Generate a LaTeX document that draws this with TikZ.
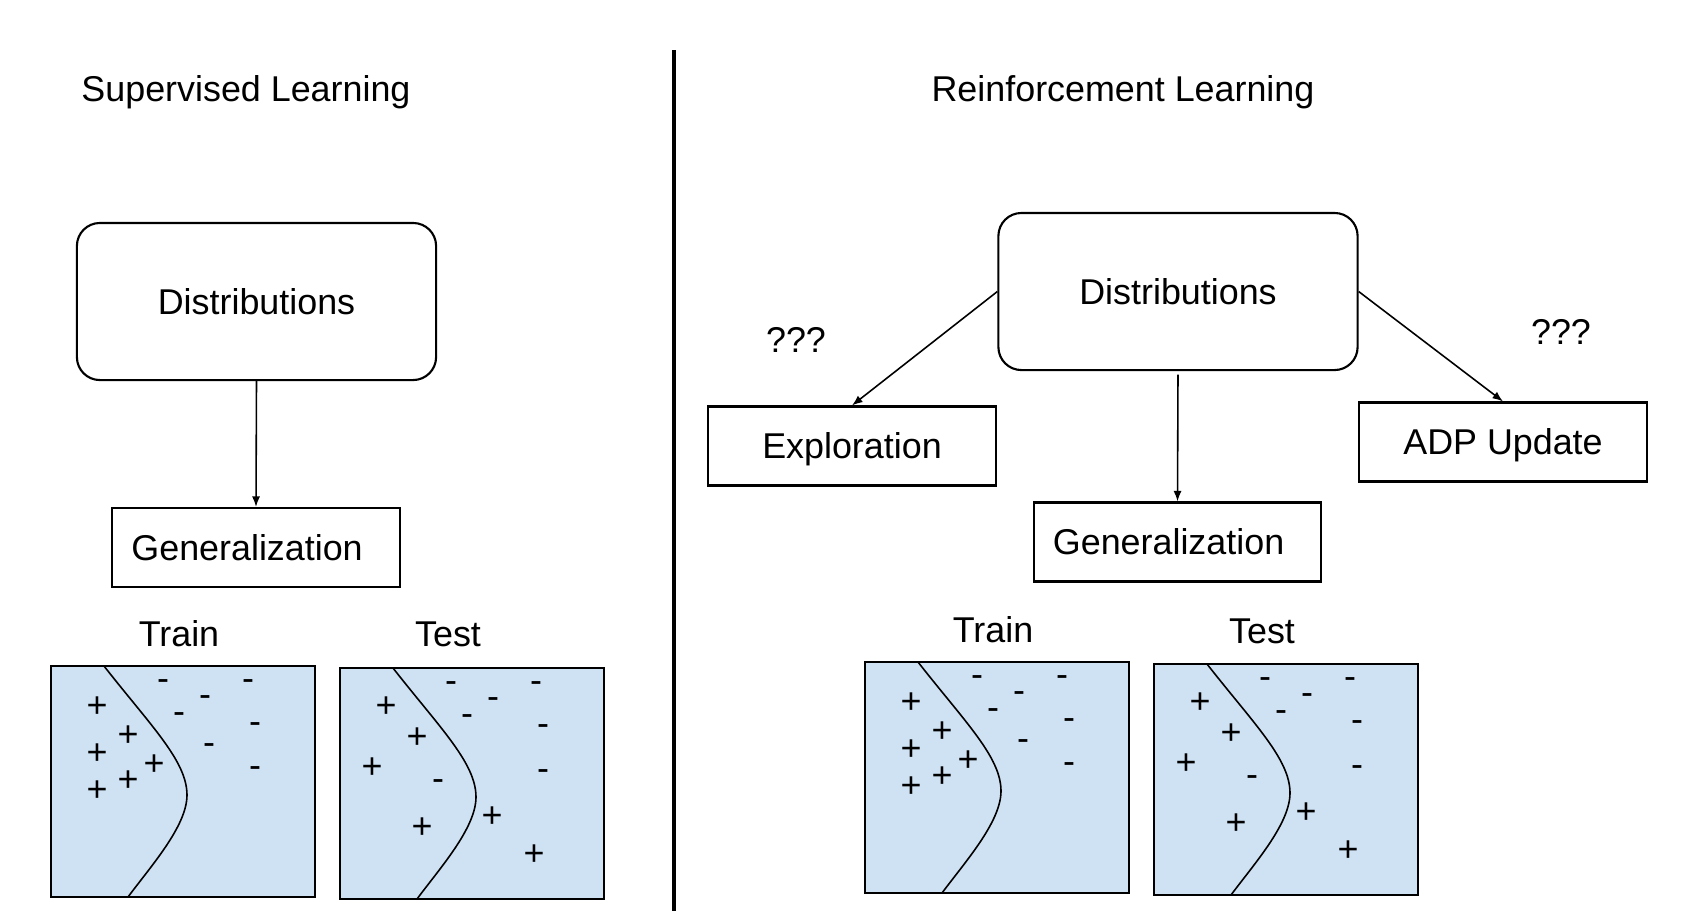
\documentclass[tikz,border=0pt]{standalone}
\usepackage{fontspec}
\setmainfont{Liberation Sans}
\usepackage{tikz}
\usetikzlibrary{positioning, arrows.meta}
\usepackage{xcolor}
\definecolor{panelfill}{HTML}{CFE2F3}
\tikzset{
  % rounded box = distributions
  distbox/.style={draw, rounded corners=0.23cm, line width=0.6pt,
                  minimum width=3.59cm, minimum height=1.57cm},
  % plain box = outcome of the distributions
  outbox/.style={draw, line width=0.6pt, inner sep=0pt,
                 text height=0.72em, text depth=0pt,
                 minimum width=2.87cm, minimum height=0.79cm},
  % same box, text pushed to the left
  outbox left/.style={outbox, text width=2.49cm, align=left, inner xsep=0.19cm},
  flow/.style={-{Latex[length=3pt,width=2.3pt]}, line width=0.45pt},
  % data marks
  plussign/.style={inner sep=0pt},
  minussign/.style={inner sep=0pt, yshift=-1.1pt},
}
\newcommand{\panelcanvas}{%
  \draw[fill=panelfill, line width=0.6pt] (0,0) rectangle (264,231);
  \draw[line width=0.45pt] (53,0) .. controls (100,60) and (136,95) .. (136,129)
    .. controls (136,160) and (100,200) .. (77,231);
}
\newcommand{\trainsamples}[1]{%
  \foreach \x/\y [count=\i] in {46/41,77/70,46/88,103/99,77/115,46/125}
    \node[plussign] (#1p\i) at (\x,\y) {+};%
  \foreach \x/\y [count=\i] in {112/15,197/15,154/31,128/48,204/58,158/79,204/102}
    \node[minussign] (#1m\i) at (\x,\y) {-};%
}
\newcommand{\testsamples}[1]{%
  \foreach \x/\y [count=\i] in {46/39,77/70,32/100,152/149,82/160,194/187}
    \node[plussign] (#1p\i) at (\x,\y) {+};%
  \foreach \x/\y [count=\i] in {111/15,196/15,153/31,127/48,203/58,98/113,203/103}
    \node[minussign] (#1m\i) at (\x,\y) {-};%
}
\begin{document}
\begin{tikzpicture}[x=0.01cm, y=-0.01cm, font=\fontsize{10.2}{12.2}\selectfont]
  \useasboundingbox (0,0) rectangle (1700,920);
  % divider between the two halves
  \draw[line width=0.9pt] (674,50) -- (674,911);
  % titles
  \node (sltitle) at (246,92) {Supervised Learning};
  \node (rltitle) at (1123,92) {Reinforcement Learning};

  % supervised side
  \node[distbox] (ldist) at (256.5,301.5) {Distributions};
  \node[outbox left] (lgen) at (256,547.5) {Generalization};
  \draw[flow] (ldist.south) -- (lgen.north);

  % reinforcement side
  \node[distbox] (rdist) at (1178,291.5) {Distributions};
  \node[outbox] (expl) at (852,446) {Exploration};
  \node[outbox] (adp) at (1503,442) {ADP Update};
  \node[outbox left] (rgen) at (1177.5,542) {Generalization};
  \draw[flow] (rdist.west) -- (expl.north);
  \draw[flow] (rdist.east) -- (adp.north);
  \draw[flow, shorten <=1pt] (rdist.south) -- (rgen.north);
  \node (qleft) at (796,340) {???};
  \node (qright) at (1561,332) {???};

  % train / test panels, supervised
  \node (ltrain) at (179,634) {Train};
  \node (ltest) at (448,634) {Test};
  \begin{scope}[shift={(51,666)}]
    \panelcanvas
    \trainsamples{lt}
  \end{scope}
  \begin{scope}[shift={(340,668)}]
    \panelcanvas
    \testsamples{ls}
  \end{scope}

  % train / test panels, reinforcement
  \node (rtrain) at (993,630) {Train};
  \node (rtest) at (1262,631) {Test};
  \begin{scope}[shift={(865,662)}]
    \panelcanvas
    \trainsamples{rt}
  \end{scope}
  \begin{scope}[shift={(1154,664)}]
    \panelcanvas
    \testsamples{rs}
  \end{scope}
\end{tikzpicture}
\end{document}
